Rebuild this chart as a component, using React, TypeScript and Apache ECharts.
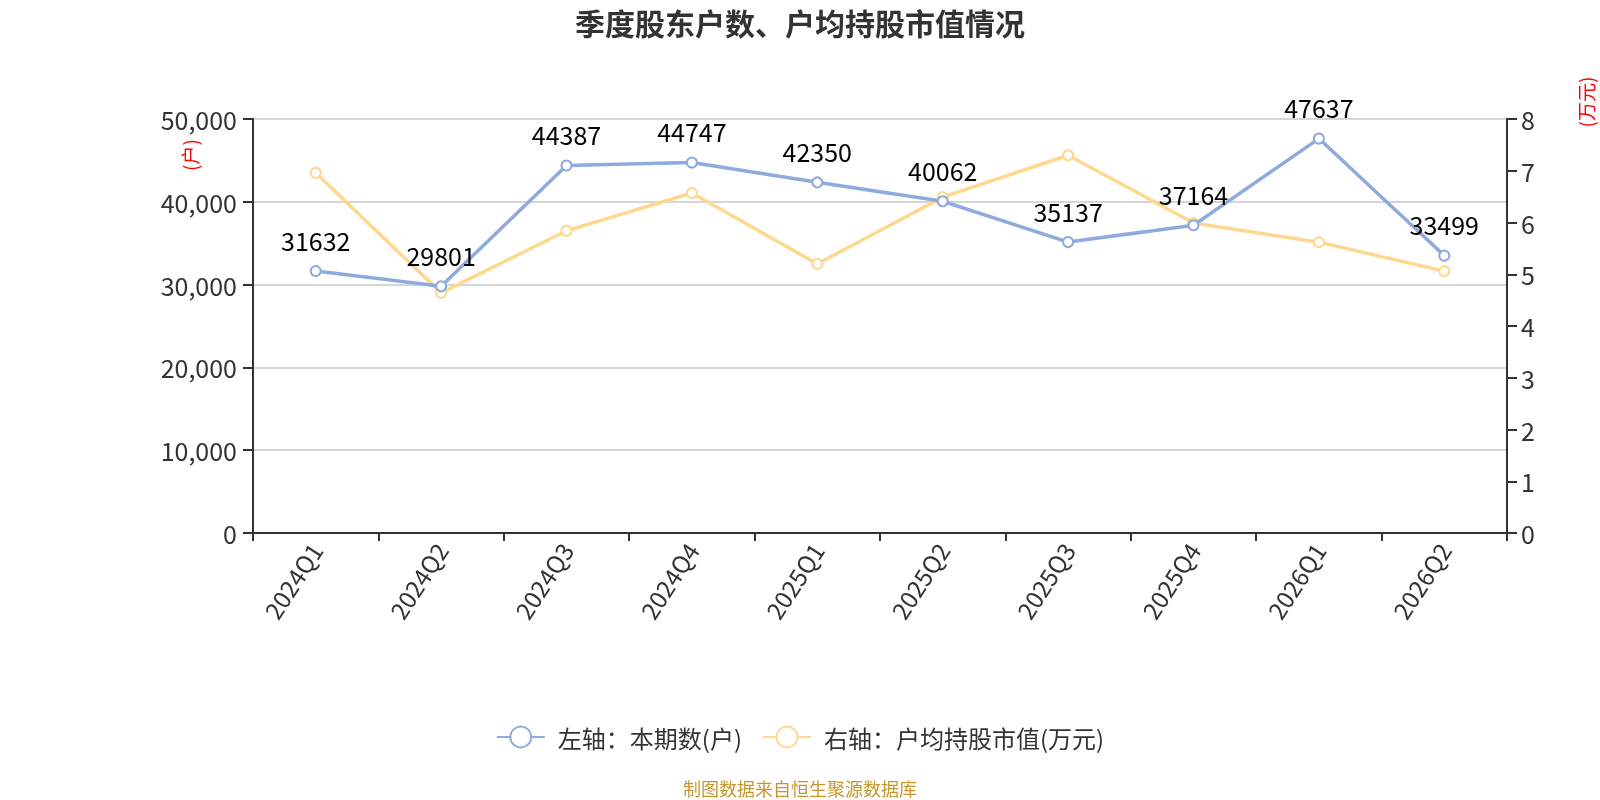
import React, { useEffect, useRef } from "react";
import * as echarts from "echarts";

const categories = ["2024Q1", "2024Q2", "2024Q3", "2024Q4", "2025Q1", "2025Q2", "2025Q3", "2025Q4", "2026Q1", "2026Q2"];
const holders = [31632, 29801, 44387, 44747, 42350, 40062, 35137, 37164, 47637, 33499];
const avgValue = [6.96, 4.64, 5.84, 6.57, 5.2, 6.49, 7.3, 5.99, 5.62, 5.06];
const seriesNames = ["左轴：本期数(户)", "右轴：户均持股市值(万元)"];
const titleText = "季度股东户数、户均持股市值情况";
const sourceText = "制图数据来自恒生聚源数据库";
const leftUnit = "(户)";
const rightUnit = "(万元)";

const FONT = "'Noto Sans CJK SC', 'Noto Sans', sans-serif";

export default function App() {
  const ref = useRef<HTMLDivElement>(null);
  useEffect(() => {
    if (!ref.current) return;
    const chart = echarts.init(ref.current, undefined, { renderer: "svg" });
    const axisLine = { show: true, lineStyle: { color: "#333", width: 2 } };
    chart.setOption({
      animation: false,
      textStyle: { fontFamily: FONT },
      title: {
        text: titleText,
        left: "center",
        top: 2,
        textStyle: { fontSize: 30, fontWeight: "bold", color: "#333", fontFamily: FONT },
      },
      grid: { left: 253, right: 93, top: 119, bottom: 267, containLabel: false },
      legend: {
        top: 720,
        left: "center",
        itemWidth: 48,
        itemHeight: 26,
        itemGap: 20,
        textStyle: { fontSize: 24, color: "#333", fontFamily: FONT, padding: [0, 0, 0, 8] },
        data: seriesNames,
      },
      xAxis: {
        type: "category",
        data: categories,
        boundaryGap: true,
        axisLine,
        axisTick: { show: true, length: 8, lineStyle: { color: "#333", width: 2 } },
        axisLabel: { rotate: 57, fontSize: 24, color: "#333", margin: 12, interval: 0 },
      },
      yAxis: [
        {
          type: "value",
          min: 0,
          max: 50000,
          interval: 10000,
          axisLine,
          axisTick: { show: true, length: 10, lineStyle: { color: "#333", width: 2 } },
          axisLabel: {
            fontSize: 25,
            color: "#333",
            margin: 16,
            formatter: (v: number) => v.toLocaleString("en-US"),
          },
          splitLine: { show: true, lineStyle: { color: "#c8c8c8", width: 1.5 } },
        },
        {
          type: "value",
          min: 0,
          max: 8,
          interval: 1,
          position: "right",
          axisLine,
          axisTick: { show: true, length: 10, lineStyle: { color: "#333", width: 2 } },
          axisLabel: { fontSize: 25, color: "#333", margin: 14 },
          splitLine: { show: false },
        },
      ],
      series: [
        {
          name: seriesNames[0],
          type: "line",
          yAxisIndex: 0,
          data: holders,
          symbol: "emptyCircle",
          symbolSize: 10,
          lineStyle: { color: "#8FAADC", width: 3.5 },
          itemStyle: { color: "#8FAADC", borderWidth: 2 },
          label: {
            show: true,
            position: "top",
            distance: 13,
            fontSize: 25,
            color: "#000",
            fontFamily: FONT,
          },
          z: 3,
        },
        {
          name: seriesNames[1],
          type: "line",
          yAxisIndex: 1,
          data: avgValue,
          symbol: "emptyCircle",
          symbolSize: 10,
          lineStyle: { color: "#FFD890", width: 3.5 },
          itemStyle: { color: "#FFD890", borderWidth: 2 },
          z: 2,
        },
      ],
      graphic: [
        {
          type: "text",
          x: 189,
          y: 155,
          rotation: Math.PI / 2,
          style: { text: leftUnit, fill: "#ff0000", fontSize: 19, fontFamily: FONT, align: "center", verticalAlign: "middle" },
        },
        {
          type: "text",
          x: 1585,
          y: 102,
          rotation: Math.PI / 2,
          style: { text: rightUnit, fill: "#ff0000", fontSize: 19, fontFamily: FONT, align: "center", verticalAlign: "middle" },
        },
        {
          type: "text",
          x: 800,
          y: 788,
          style: { text: sourceText, fill: "#C8962E", fontSize: 18, fontFamily: FONT, align: "center", verticalAlign: "middle" },
        },
      ],
    });
    return () => chart.dispose();
  }, []);
  return <div ref={ref} style={{ position: "fixed", left: 0, top: 0, width: 1600, height: 800 }} />;
}
